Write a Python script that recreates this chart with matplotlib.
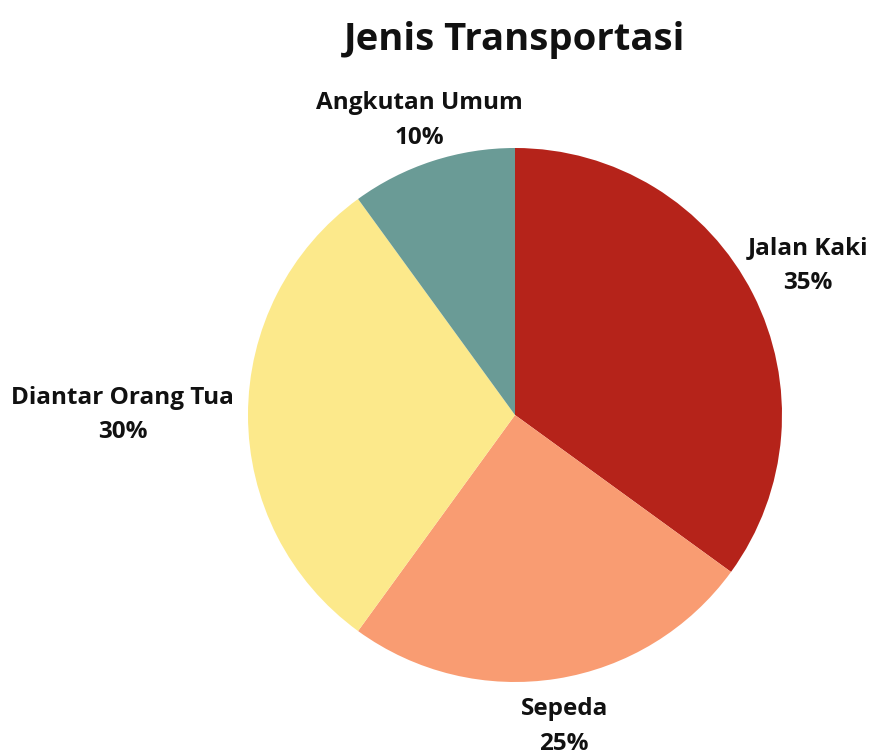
import matplotlib.pyplot as plt
import numpy as np

plt.rcParams['font.family'] = ['Open Sans', 'DejaVu Sans']

# data
categories = ["Jalan Kaki", "Angkutan Umum", "Diantar Orang Tua", "Sepeda"]
shares = [35, 10, 30, 25]
colors = ["#B5231A", "#6A9B96", "#FCE98B", "#F99C72"]

# order drawn clockwise from 12 o'clock: Jalan Kaki, Sepeda, Diantar, Angkutan
order = [0, 3, 2, 1]
label_dist = {0: 1.23, 3: 1.18, 2: 1.47, 1: 1.16}

fig = plt.figure(figsize=(8.75, 7.54), dpi=100)
ax = fig.add_axes([0, 0, 1, 1])
ax.set_xlim(0, 875)
ax.set_ylim(0, 754)
ax.set_aspect("equal")
ax.axis("off")

cx, cy, r = 515, 754 - 415, 267
vals = [shares[i] for i in order]
wedges, _ = ax.pie(
    vals,
    colors=[colors[i] for i in order],
    startangle=90,
    counterclock=False,
    center=(cx, cy),
    radius=r,
    frame=True,
)
ax.axis("off")

for w, i in zip(wedges, order):
    mid = np.deg2rad((w.theta1 + w.theta2) / 2)
    d = label_dist[i] * r
    x = cx + d * np.cos(mid)
    y = cy + d * np.sin(mid)
    ax.text(x, y, f"{categories[i]}\n{shares[i]}%", ha="center", va="center",
            fontsize=17.5, fontweight="bold", color="#111111", linespacing=1.6)

fig.text(515 / 875, 1 - 40 / 754, "Jenis Transportasi", ha="center", va="center",
         fontsize=27.5, fontweight="bold", color="#111111")

fig.savefig("out.png", dpi=100, facecolor="white")
